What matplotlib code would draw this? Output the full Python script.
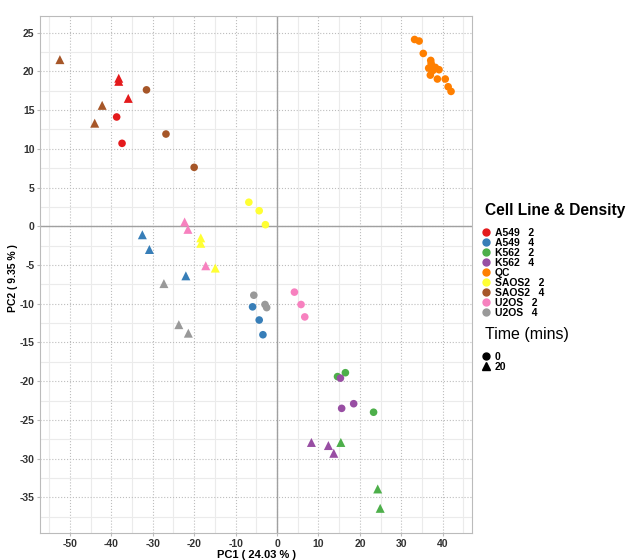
# PCA score plot - cell line & density / time
import matplotlib.pyplot as plt
from matplotlib.lines import Line2D
from matplotlib.ticker import MultipleLocator

plt.rcParams['font.family'] = ['Liberation Sans', 'DejaVu Sans']
plt.rcParams['axes.unicode_minus'] = False

# --- data ---
groups = ["A549   2", "A549   4", "K562   2", "K562   4", "QC",
          "SAOS2   2", "SAOS2   4", "U2OS   2", "U2OS   4"]
colors = ["#E41A1C", "#377EB8", "#4DAF4A", "#984EA3", "#FF7F00",
          "#FFFF33", "#A65628", "#F781BF", "#999999"]

group = (["A549   2"] * 5 + ["A549   4"] * 6 + ["K562   2"] * 6 + ["K562   4"] * 6
         + ["QC"] * 14 + ["SAOS2   2"] * 6 + ["SAOS2   4"] * 6
         + ["U2OS   2"] * 6 + ["U2OS   4"] * 6)
time = ([20, 20, 20, 0, 0]
        + [20, 20, 20, 0, 0, 0]
        + [0, 0, 0, 20, 20, 20]
        + [0, 0, 0, 20, 20, 20]
        + [0] * 14
        + [0, 0, 0, 20, 20, 20]
        + [20, 20, 20, 0, 0, 0]
        + [20, 20, 20, 0, 0, 0]
        + [20, 20, 20, 0, 0, 0])
pc1 = ([-38.2, -38.2, -35.9, -38.7, -37.4]
       + [-32.5, -30.8, -22.0, -5.9, -4.3, -3.4]
       + [14.6, 16.5, 23.3, 15.4, 24.3, 24.9]
       + [15.3, 18.5, 15.6, 8.3, 12.4, 13.7]
       + [33.2, 34.3, 35.3, 37.1, 37.2, 38.2, 39.1, 37.6, 37.0, 38.7, 40.6, 41.3, 42.0, 36.6]
       + [-6.8, -4.3, -2.8, -18.4, -18.4, -14.9]
       + [-52.4, -42.2, -44.0, -31.5, -26.8, -20.0]
       + [-22.3, -21.5, -17.2, 4.2, 5.8, 6.7]
       + [-27.3, -23.7, -21.4, -5.6, -2.9, -2.5])
pc2 = ([19.1, 18.7, 16.5, 14.1, 10.7]
       + [-1.1, -3.0, -6.4, -10.4, -12.1, -14.0]
       + [-19.4, -18.9, -24.0, -27.9, -33.9, -36.4]
       + [-19.6, -22.9, -23.5, -27.9, -28.3, -29.3]
       + [24.1, 23.9, 22.3, 21.4, 21.0, 20.5, 20.2, 20.1, 19.5, 19.0, 19.0, 18.0, 17.4, 20.4]
       + [3.1, 2.0, 0.2, -1.5, -2.2, -5.4]
       + [21.5, 15.6, 13.3, 17.6, 11.9, 7.6]
       + [0.55, -0.4, -5.1, -8.5, -10.1, -11.7]
       + [-7.4, -12.7, -13.8, -8.9, -10.1, -10.5])

fig = plt.figure(figsize=(6.3, 5.6), dpi=100)
ax = fig.add_axes([0.0635, 0.048, 0.686, 0.923])

# grid: dotted majors, light solid minors
ax.xaxis.set_major_locator(MultipleLocator(10))
ax.xaxis.set_minor_locator(MultipleLocator(5))
ax.yaxis.set_major_locator(MultipleLocator(5))
ax.yaxis.set_minor_locator(MultipleLocator(2.5))
ax.grid(which='minor', color='#EBEBEB', lw=0.8, ls='-')
ax.grid(which='major', color='#BDBDBD', lw=0.8, ls=':')
ax.set_axisbelow(True)
ax.axhline(0, color='#A0A0A0', lw=1, zorder=1)
ax.axvline(0, color='#A0A0A0', lw=1, zorder=1)

for g, c in zip(groups, colors):
    for t, m, s in [(0, 'o', 30), (20, '^', 42)]:
        xs = [x for x, gg, tt in zip(pc1, group, time) if gg == g and tt == t]
        ys = [y for y, gg, tt in zip(pc2, group, time) if gg == g and tt == t]
        if xs:
            ax.scatter(xs, ys, s=s, marker=m, color=c, edgecolors='none', zorder=3)

ax.set_xlim(-57.2, 47.1)
ax.set_ylim(-39.6, 27.1)
for sp in ax.spines.values():
    sp.set_color('#BBBBBB')
ax.tick_params(which='both', length=0, labelsize=7.5, colors='#333333', pad=2)
ax.tick_params(which='major', length=2, color='#BBBBBB')
for lb in ax.get_xticklabels() + ax.get_yticklabels():
    lb.set_fontweight('bold')
ax.set_xlabel("PC1 ( 24.03 % )", fontsize=8, fontweight='bold', labelpad=1)
ax.set_ylabel("PC2 ( 9.35 % )", fontsize=7.5, fontweight='bold')
ax.yaxis.set_label_coords(-0.052, 0.493)

# legends (titles as separate texts for spacing control)
fig.text(0.770, 1 - 210 / 560, "Cell Line & Density", fontsize=11.2,
         fontweight='bold', va='center', ha='left')
h1 = [Line2D([], [], ls='', marker='o', color=c, markersize=5) for c in colors]
fig.legend(h1, groups, loc='upper left', bbox_to_anchor=(0.765, 1 - 228 / 560),
           frameon=False, prop={'size': 7.5, 'weight': 'bold'}, labelspacing=0.0,
           handlelength=0.8, handletextpad=0.45, borderpad=0, borderaxespad=0)

fig.text(0.770, 1 - 335 / 560, "Time (mins)", fontsize=11.5,
         va='center', ha='left')
h2 = [Line2D([], [], ls='', marker='o', color='black', markersize=5),
      Line2D([], [], ls='', marker='^', color='black', markersize=6)]
fig.legend(h2, ["0", "20"], loc='upper left', bbox_to_anchor=(0.765, 1 - 352 / 560),
           frameon=False, prop={'size': 7.5, 'weight': 'bold'}, labelspacing=0.0,
           handlelength=0.8, handletextpad=0.45, borderpad=0, borderaxespad=0)

fig.savefig("out.png", dpi=100)
